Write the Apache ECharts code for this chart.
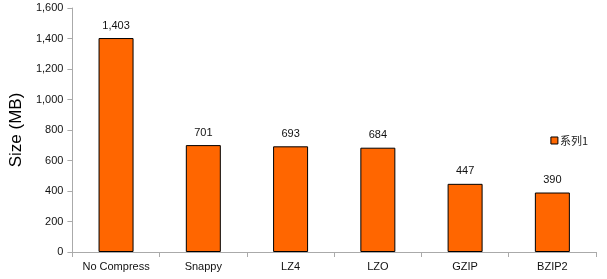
<!DOCTYPE html>
<html><head><meta charset="utf-8">
<script src="https://cdn.jsdelivr.net/npm/echarts@6/dist/echarts.min.js"></script>
<style>html,body{margin:0;padding:0;background:#fff}#c{width:607px;height:279px}</style>
</head><body><div id="c"></div>
<script>
const categories = ['No Compress', 'Snappy', 'LZ4', 'LZO', 'GZIP', 'BZIP2'];
const sizes = [1403, 701, 693, 684, 447, 390];
const seriesName = '系列1';
const yAxisTitle = 'Size (MB)';

const fmt = v => Number(v).toLocaleString('en-US');
const chart = echarts.init(document.getElementById('c'), null, {renderer: 'canvas'});
chart.setOption({
  animation: false,
  textStyle: {fontFamily: 'Liberation Sans, Arial, sans-serif'},
  grid: {left: 71, right: 11, top: 8, bottom: 27, containLabel: false},
  legend: {
    data: [seriesName],
    right: 14, top: 130,
    itemWidth: 7, itemHeight: 7, itemGap: 4,
    icon: 'rect',
    itemStyle: {borderColor: '#000', borderWidth: 1},
    textStyle: {fontSize: 11, color: '#222', fontFamily: 'Noto Sans CJK SC, sans-serif', padding: [0, 0, 0, -3]}
  },
  xAxis: {
    type: 'category', data: categories,
    axisLine: {lineStyle: {color: '#aaa', width: 1}},
    axisTick: {show: true, alignWithLabel: false, length: 5, lineStyle: {color: '#aaa'}},
    axisLabel: {fontSize: 11, color: '#111', margin: 9, interval: 0}
  },
  yAxis: {
    type: 'value', min: 0, max: 1600, interval: 200,
    name: yAxisTitle, nameLocation: 'middle', nameGap: 46,
    nameTextStyle: {fontSize: 17, color: '#000'},
    axisLine: {show: true, lineStyle: {color: '#aaa', width: 1}},
    axisTick: {show: true, length: 5, lineStyle: {color: '#aaa'}},
    splitLine: {show: false},
    axisLabel: {fontSize: 11, color: '#111', margin: 9, formatter: fmt}
  },
  series: [{
    name: seriesName, type: 'bar', data: sizes,
    barWidth: 35,
    itemStyle: {color: '#FF6600', borderColor: '#000', borderWidth: 1},
    label: {show: true, position: 'top', distance: 7, fontSize: 11, color: '#111', formatter: p => fmt(p.value)}
  }]
});
</script></body></html>
